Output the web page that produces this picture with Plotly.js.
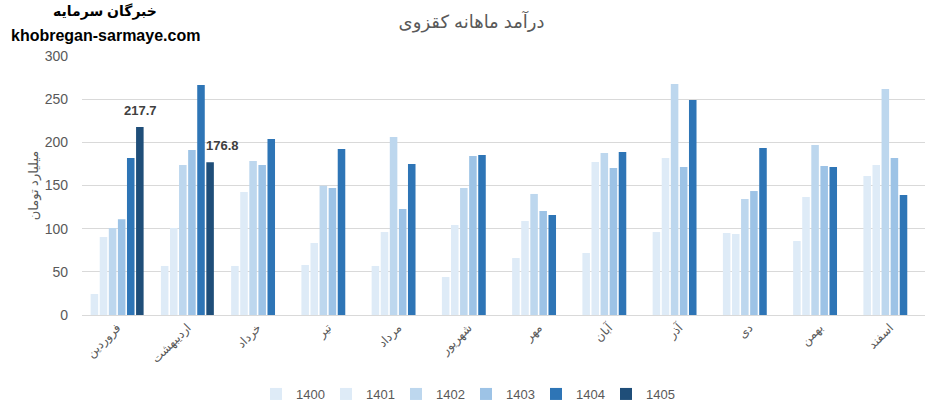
<!DOCTYPE html>
<html>
<head>
<meta charset="utf-8">
<script src="https://cdn.plot.ly/plotly-3.0.1.min.js"></script>
<style>html,body{margin:0;padding:0;background:#fff;}#chart{width:932px;height:412px;}</style>
</head>
<body>
<div id="chart"></div>
<script>
const months = ["فروردین","اردیبهشت","خرداد","تیر","مرداد","شهریور","مهر","آبان","آذر","دی","بهمن","اسفند"];
const years = ["1400","1401","1402","1403","1404","1405"];
const v1400 = [24.3, 56.8, 56.8, 57.9, 56.8, 44.0, 66.0, 71.8, 96.1, 95.0, 85.7, 161.0];
const v1401 = [90.3, 100.8, 142.5, 83.4, 96.1, 104.2, 108.9, 177.2, 181.9, 93.8, 136.7, 173.7];
const v1402 = [100.8, 173.7, 178.4, 149.8, 206.2, 147.1, 140.2, 187.6, 267.6, 134.4, 196.9, 261.8];
const v1403 = [111.0, 191.0, 173.7, 147.1, 122.8, 184.2, 120.5, 170.3, 171.4, 143.6, 172.6, 181.9];
const v1404 = [181.9, 266.4, 203.9, 192.3, 174.9, 185.3, 115.8, 188.8, 249.0, 193.4, 171.4, 139.0];
const v1405 = [217.7, 176.8, null, null, null, null, null, null, null, null, null, null];
const colors = ["#DEEBF7","#DEEBF7","#BDD7EE","#9DC3E6","#2E75B6","#1F4E79"];
const series = [v1400, v1401, v1402, v1403, v1404, v1405];

const font = "'Liberation Sans', Arial, 'DejaVu Sans', sans-serif";
const traces = series.map((vals, i) => ({
  type: "bar",
  name: years[i],
  x: months,
  y: vals,
  marker: {color: colors[i], line: {width: 0}},
  hoverinfo: "x+y+name"
}));

const annotations = [
  {xref: "x", yref: "y", x: months[0], y: v1405[0], text: "<b>" + v1405[0].toFixed(1) + "</b>",
   showarrow: false, yanchor: "bottom", xshift: 23.5, yshift: 7,
   font: {family: font, size: 13, color: "#404040"}},
  {xref: "x", yref: "y", x: months[1], y: v1405[1], text: "<b>" + v1405[1].toFixed(1) + "</b>",
   showarrow: false, yanchor: "bottom", xshift: 35.5, yshift: 7,
   font: {family: font, size: 13, color: "#404040"}},
  {xref: "paper", yref: "paper", x: 0.0273, y: 1.17, text: "<b>خبرگان سرمایه</b>",
   showarrow: false, xanchor: "center", yanchor: "middle",
   font: {family: font, size: 14, color: "#000"}},
  {xref: "paper", yref: "paper", x: 0.0273, y: 1.081, text: "<b>khobregan-sarmaye.com</b>",
   showarrow: false, xanchor: "center", yanchor: "middle",
   font: {family: font, size: 16, color: "#000"}}
];

const layout = {
  width: 932, height: 412,
  autosize: false,
  margin: {l: 82, r: 7, t: 56, b: 97, autoexpand: false},
  paper_bgcolor: "#fff", plot_bgcolor: "#fff",
  font: {family: font, color: "#595959"},
  title: {text: "درآمد ماهانه کقزوی", x: 0.506, xref: "container", xanchor: "center",
          y: 0.947, yref: "container", yanchor: "middle",
          font: {family: font, size: 18, color: "#595959"}},
  barmode: "group",
  bargap: 0.224,
  bargroupgap: 0.17,
  xaxis: {
    type: "category",
    tickangle: -45,
    tickfont: {family: font, size: 12, color: "#595959"},
    showgrid: false,
    showline: true, linecolor: "#D9D9D9", linewidth: 1,
    ticks: "", zeroline: false, fixedrange: true, automargin: false
  },
  yaxis: {
    range: [0, 300],
    dtick: 50,
    tickfont: {family: font, size: 14, color: "#595959"},
    gridcolor: "#D9D9D9", gridwidth: 1,
    zeroline: true, zerolinecolor: "#D9D9D9", zerolinewidth: 1,
    showline: false, ticks: "", ticklabelstandoff: 13,
    title: {text: "میلیارد تومان", font: {family: font, size: 13, color: "#595959"}, standoff: 3},
    fixedrange: true, automargin: false
  },
  legend: {
    orientation: "h", x: 0.4555, xanchor: "center",
    y: -0.305, yanchor: "middle",
    font: {family: font, size: 13, color: "#595959"},
    traceorder: "normal",
    itemwidth: 30,
    entrywidth: 25
  },
  annotations: annotations,
  showlegend: true
};

Plotly.newPlot("chart", traces, layout, {displayModeBar: false, staticPlot: true});
</script>
</body>
</html>
